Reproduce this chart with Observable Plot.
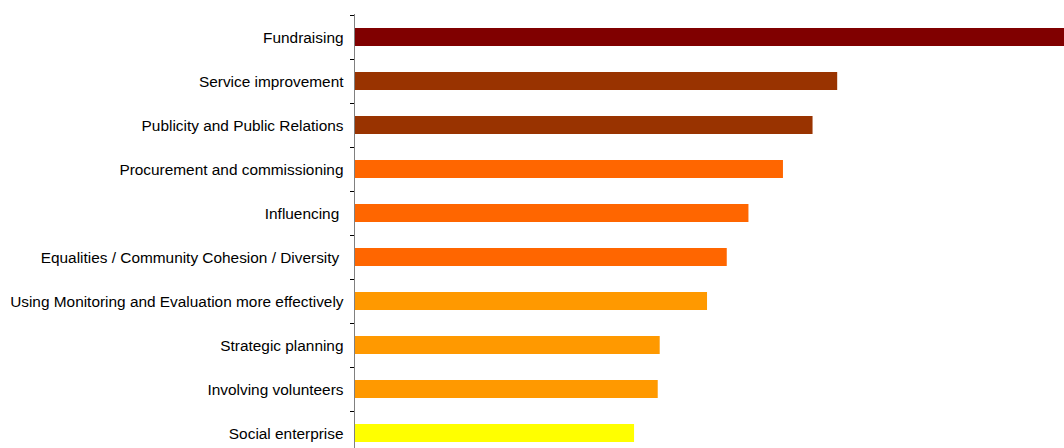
<!DOCTYPE html>
<html>
<head>
<meta charset="utf-8">
<script src="https://cdn.jsdelivr.net/npm/d3@7"></script>
<script src="https://cdn.jsdelivr.net/npm/@observablehq/plot@0.6"></script>
<style>
  html, body { margin: 0; padding: 0; background: #fff; }
  svg text { white-space: pre; }
</style>
</head>
<body>
<div id="chart"></div>
<script>
const categories = [
  "Fundraising",
  "Service improvement",
  "Publicity and Public Relations",
  "Procurement and commissioning",
  "Influencing ",
  "Equalities / Community Cohesion / Diversity ",
  "Using Monitoring and Evaluation more effectively",
  "Strategic planning",
  "Involving volunteers",
  "Social enterprise"
];
const values = [72, 49, 46.5, 43.5, 40, 37.8, 35.8, 31, 30.8, 28.4];
const colors = ["#800000", "#993300", "#993300", "#FF6600", "#FF6600", "#FF6600", "#FF9900", "#FF9900", "#FF9900", "#FFFF00"];

const data = categories.map((c, i) => ({category: c, value: values[i], color: colors[i]}));

const chart = Plot.plot({
  width: 1064,
  height: 448,
  marginLeft: 354,
  marginRight: 0,
  marginTop: 14,
  marginBottom: 0,
  style: {fontFamily: "'Liberation Sans', Arial, Helvetica, sans-serif", fontSize: "15.4px", color: "#000", background: "#fff"},
  x: {domain: [0, 72], axis: null},
  y: {domain: categories, range: [14.6, 454.6], paddingInner: 0.6, paddingOuter: 0.3, label: null},
  marks: [
    Plot.barX(data, {y: "category", x: "value", fill: "color"}),
    Plot.axisY({tickSize: 4, text: null, dy: -22, stroke: "#000", strokeOpacity: 1}),
    Plot.axisY({tickSize: 0, tickPadding: 11, fontSize: 15.4, dy: 1, fill: "#000"}),
    Plot.ruleX([0], {stroke: "#808080", strokeWidth: 1})
  ]
});
document.getElementById("chart").appendChild(chart);
</script>
</body>
</html>
